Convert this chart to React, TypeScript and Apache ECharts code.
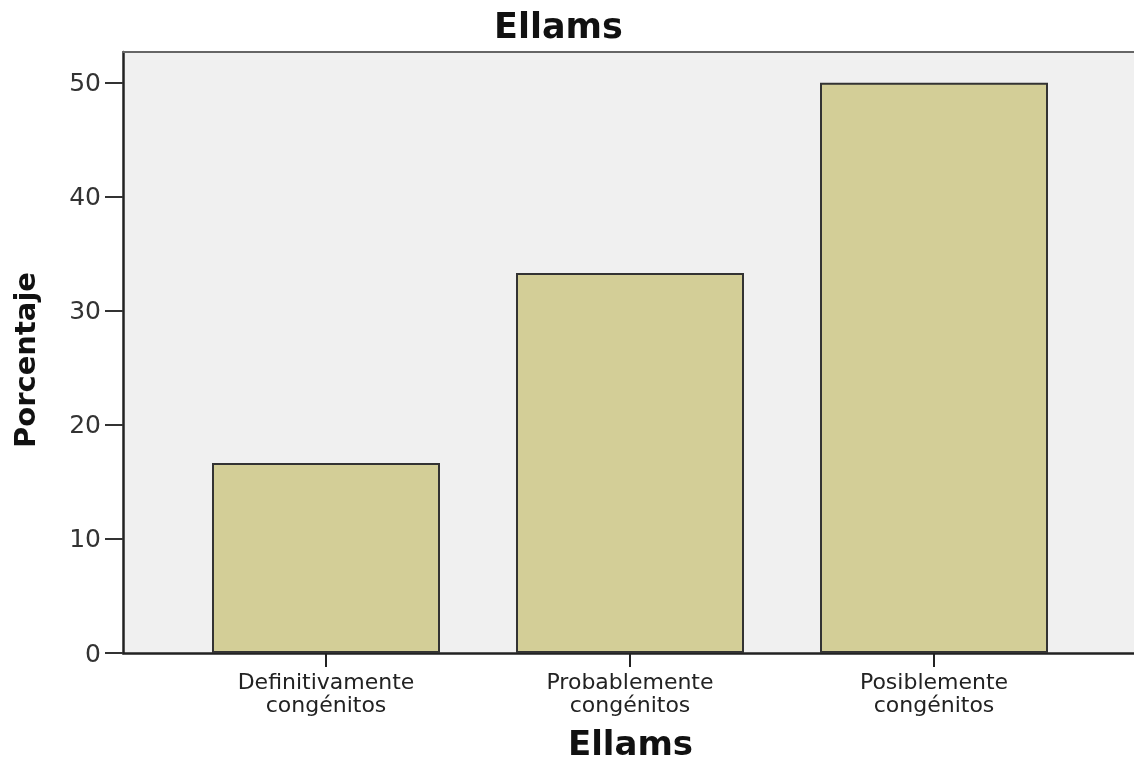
import React, { useEffect, useRef } from "react";
import * as echarts from "echarts";

const categories = ["Definitivamente\ncongénitos", "Probablemente\ncongénitos", "Posiblemente\ncongénitos"];
const values = [16.67, 33.33, 50];
const yTicks = [0, 10, 20, 30, 40, 50];
const chartTitle = "Ellams";
const xName = "Ellams";
const yName = "Porcentaje";

const FONT = "DejaVu Sans";
const Y_MAX = 52.7;

export default function App() {
  const ref = useRef<HTMLDivElement>(null);
  useEffect(() => {
    if (!ref.current) return;
    const chart = echarts.init(ref.current, null, { renderer: "svg" });
    chart.setOption({
      animation: false,
      title: {
        text: chartTitle,
        left: 494,
        top: 8,
        padding: 0,
        textStyle: { fontFamily: FONT, fontWeight: "bold", fontSize: 35, color: "#111" },
      },
      graphic: [
        {
          type: "text",
          x: 25,
          y: 360,
          rotation: Math.PI / 2,
          style: {
            text: yName,
            align: "center",
            verticalAlign: "middle",
            fontFamily: FONT,
            fontWeight: "bold",
            fontSize: 29,
            fill: "#111",
          },
        },
      ],
      grid: [
        {
          left: 123,
          right: -4,
          top: 52,
          bottom: 112,
          show: true,
          backgroundColor: "#f0f0f0",
          borderWidth: 0,
          outerBoundsMode: "none",
          containLabel: false,
        },
        { left: 174, right: 48, top: 52, bottom: 112, outerBoundsMode: "none", containLabel: false },
      ],
      xAxis: [
        {
          type: "value",
          gridIndex: 0,
          min: 0,
          max: 1,
          position: "bottom",
          axisLine: { show: true, lineStyle: { color: "#222", width: 2.5 } },
          axisTick: { show: false },
          axisLabel: { show: false },
          splitLine: { show: false },
          name: xName,
          nameLocation: "middle",
          nameGap: 73,
          nameTextStyle: { fontFamily: FONT, fontWeight: "bold", fontSize: 34, color: "#111" },
        },
        {
          type: "value",
          gridIndex: 0,
          min: 0,
          max: 1,
          position: "top",
          axisLine: { show: true, lineStyle: { color: "#666", width: 2 } },
          axisTick: { show: false },
          axisLabel: { show: false },
          splitLine: { show: false },
        },
        {
          type: "category",
          gridIndex: 1,
          data: categories,
          axisLine: { show: false },
          axisTick: { show: true, alignWithLabel: true, length: 14, lineStyle: { color: "#222", width: 2 } },
          axisLabel: {
            fontFamily: FONT,
            fontSize: 22,
            lineHeight: 23,
            color: "#222",
            margin: 17,
            interval: 0,
          },
        },
      ],
      yAxis: [
        {
          type: "value",
          gridIndex: 0,
          min: 0,
          max: Y_MAX,
          axisLine: { show: true, lineStyle: { color: "#222", width: 2.5 } },
          axisTick: { show: true, length: 18, customValues: yTicks, lineStyle: { color: "#333", width: 2 } },
          axisLabel: { fontFamily: FONT, fontSize: 25, color: "#333", margin: 22, customValues: yTicks },
          splitLine: { show: false },
        },
        {
          type: "value",
          gridIndex: 1,
          min: 0,
          max: Y_MAX,
          show: false,
          splitLine: { show: false },
        },
      ],
      series: [
        {
          type: "bar",
          xAxisIndex: 2,
          yAxisIndex: 1,
          data: values,
          barWidth: "75%",
          itemStyle: { color: "#d3ce97", borderColor: "#333", borderWidth: 2 },
        },
      ],
    });
    return () => chart.dispose();
  }, []);
  return <div ref={ref} style={{ position: "fixed", left: 0, top: 0, width: 1134, height: 765 }} />;
}
